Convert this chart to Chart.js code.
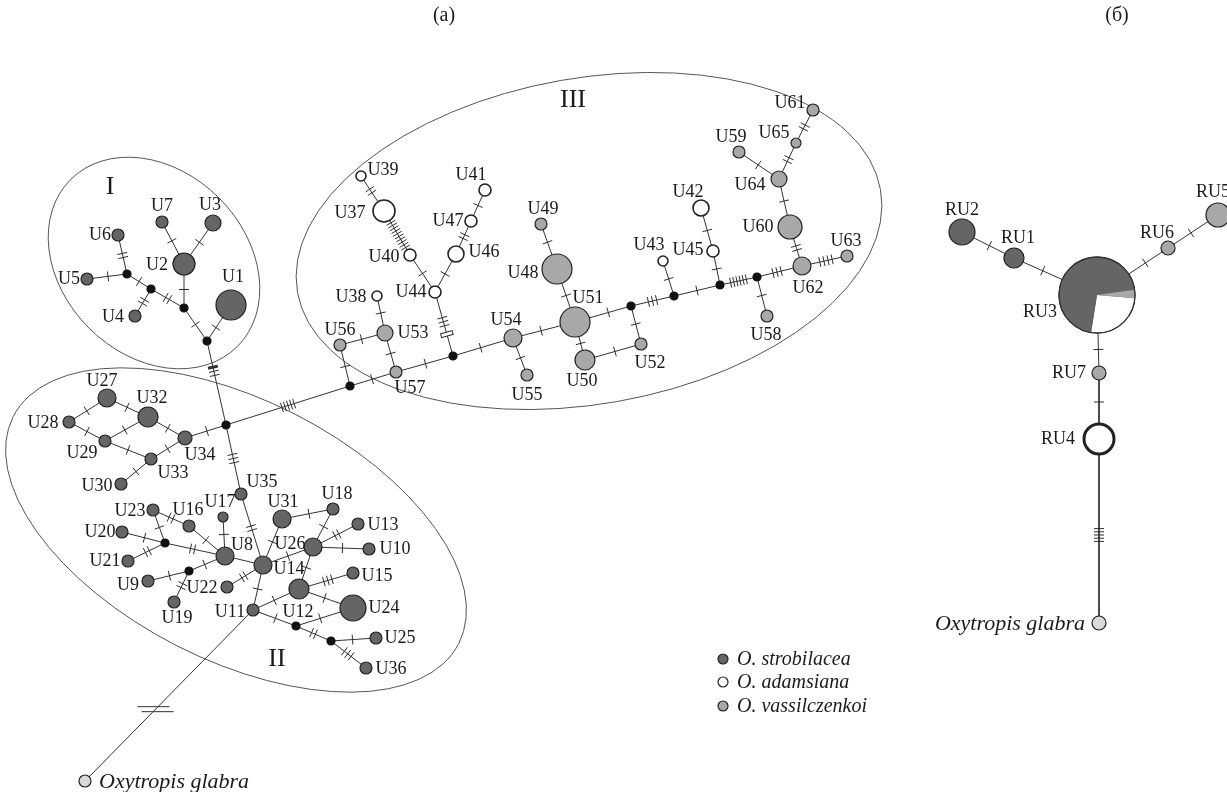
<!DOCTYPE html>
<html><head><meta charset="utf-8">
<script src="https://cdn.jsdelivr.net/npm/chart.js@4"></script>
<style>html,body{margin:0;padding:0;background:#fff}#wrap{width:1227px;height:792px}</style>
</head><body><div id="wrap"><canvas id="c" width="1227" height="792"></canvas></div>
<script>
// ---- haplotypes (nodes) ----
const nodeNames = [
 'U1','U2','U3','U4','U5','U6','U7','m1','m2','m3','m4','h1',
 'U27','U28','U29','U30','U32','U33','U34','U35','U17','U23','U16','U20','m5','U21','U8','U14','U31','U18','U13','U26','U10','m6','U9','U22','U19','U15','U12','U24','U11','m7','m8','U25','U36','G1',
 'm10','U56','U57','U53','U38','m9','U44','U40','U37','U39','U46','U47','U41','U54','U55','U51','U48','U49','U50','m11','U52','m12','U43','m13','U45','U42','m14','U58','U62','U63','U60','U64','U59','U65','U61',
 'RU2','RU1','RU3','RU6','RU5','RU7','RU4','G2'];
const nodeX = [
 231,184,213,135,87,118,162,127,151,184,207,226,
 107,69,105,121,148,151,185,241,223,153,189,122,165,128,225,263,282,333,358,313,369,189,148,227,174,353,299,353,253,296,331,376,366,85,
 350,340,396,385,377,453,435,410,384,361,456,471,485,513,527,575,557,541,585,631,641,674,663,720,713,701,757,767,802,847,790,779,739,796,813,
 962,1014,1097,1168,1218,1099,1099,1099];
const nodeY = [
 305,264,223,316,279,235,222,274,289,308,341,425,
 398,422,441,484,417,459,438,494,517,510,526,532,543,561,556,565,519,509,524,547,549,571,581,587,602,573,589,608,610,626,641,638,668,781,
 386,345,372,333,296,356,292,255,211,176,254,221,190,338,375,322,269,224,360,306,344,296,261,285,251,208,277,316,266,256,227,179,152,143,110,
 232,258,295,248,215,373,439,623];
// frequency class (drawn circle size), 0 = median vector
const nodeFreq = [
 15,11,8,6,6,6,6,0,0,0,0,0,
 9,6,6,6,10,6,7,6,5,6,6,6,0,6,9,9,9,6,6,9,6,0,6,6,6,6,10,13,6,0,0,6,6,6,
 0,6,6,8,5,0,6,6,11,5,8,6,6,9,6,15,15,6,10,0,6,0,5,0,6,8,0,6,9,6,12,8,6,5,6,
 13,10,38,7,12,7,15,7];
// s = O. strobilacea, a = O. adamsiana, v = O. vassilczenkoi, g = O. glabra, m = median, p = mixed
const nodeSpecies = [
 's','s','s','s','s','s','s','m','m','m','m','m',
 's','s','s','s','s','s','s','s','s','s','s','s','m','s','s','s','s','s','s','s','s','m','s','s','s','s','s','s','s','m','m','s','s','g',
 'm','v','v','v','a','m','a','a','a','a','a','a','a','v','v','v','v','v','v','m','v','m','a','m','a','a','m','v','v','v','v','v','v','v','v',
 's','s','p','v','v','v','a','g'];
// RU3 composition (adamsiana, strobilacea, vassilczenkoi)
const pieShares = [0.261, 0.703, 0.036];

// ---- links ----
const edgeFrom = ['U6','U5','m1','m2','m2','m3','U2','U2','m3','m4','m4',
 'h1','h1','U28','U27','U28','U29','U32','U29','U33','U33','U35','U17','U23','U23','U16','U20','U21','m5','U8','U8','m6','m6','U14','U14','U31','U18','U26','U26','U26','U14','U14','U11','U12','U12','U11','m7','m7','m8','m8','U11',
 'h1','m10','m10','U56','U53','U53','U57','U44','U44','U40','U37','U44','U46','U47','m9','U54','U54','U51','U48','U51','U51','m11','U52','m11','m12','m12','m13','U45','m13','m14','m14','U62','U62','U60','U64','U64','U65',
 'RU2','RU1','RU3','RU6','RU3','RU7','RU4'];
const edgeTo = ['m1','m1','m2','U4','m3','U2','U7','U3','m4','U1','h1',
 'U34','U35','U27','U32','U29','U32','U34','U33','U34','U30','U14','U8','m5','U16','U8','m5','m5','U8','U14','m6','U9','U19','U31','U26','U18','U26','U13','U10','U12','U22','U11','U12','U15','U24','m7','U24','m8','U25','U36','G1',
 'm10','U56','U57','U53','U38','U57','m9','m9','U40','U37','U39','U46','U47','U41','U54','U55','U51','U48','U49','U50','m11','U52','U50','m12','U43','m13','U45','U42','m14','U58','U62','U63','U60','U64','U59','U65','U61',
 'RU1','RU3','RU6','RU5','RU7','RU4','G2'];
const edgeSteps = [2,1,1,2,2,1,1,1,1,1,3,
 1,3,1,1,1,1,1,1,1,1,2,1,1,2,1,1,2,2,0,1,1,2,1,1,1,1,2,1,1,2,1,1,3,1,1,1,2,1,3,2,
 5,1,1,1,1,1,1,3,1,10,2,1,2,1,1,1,1,1,1,1,1,1,1,3,1,1,1,1,6,1,3,4,2,1,1,2,2,
 1,1,1,1,1,1,5];

// ---- label layout (offset of label from node) ----
const labelDX = [
 2,-27,-3,-22,-18,-18,0,0,0,0,0,0,
 -5,-26,-23,-24,4,22,15,21,-3,-23,-1,-22,0,-23,17,26,1,4,25,-23,26,0,-20,-25,3,24,-1,31,-23,0,0,24,25,14,
 0,0,14,28,-26,0,-24,-26,-34,22,28,-23,-14,-7,0,13,-34,2,-3,0,9,0,-14,0,-25,-13,0,-1,6,-1,-32,-29,-8,-22,-23,
 0,4,-57,-11,-5,-30,-41,-14];
const labelDY = [
 -28,1,-18,1,0,0,-16,0,0,0,0,0,
 -17,1,12,2,-19,14,17,-12,-15,1,-16,0,0,0,-11,4,-17,-15,1,-3,0,0,4,1,16,3,23,0,2,0,0,0,1,0,
 0,-15,16,0,1,0,0,2,2,-6,-2,0,-15,-18,20,-24,4,-15,21,0,19,0,-16,0,-1,-16,0,19,22,-15,0,6,-15,-10,-7,
 -22,-20,17,-15,-23,0,0,0];

const speciesColor = {s:'#656565', a:'#ffffff', v:'#a8a8a8', g:'#d9d9d9', m:'#111111', p:'#656565'};
const idx = {}; nodeNames.forEach((n,i)=>idx[n]=i);
const rad = i => nodeFreq[i] || 4;

const edgeData = [];
edgeFrom.forEach((f,i)=>{
  const a = idx[f], b = idx[edgeTo[i]];
  edgeData.push({x:nodeX[a], y:nodeY[a]}, {x:nodeX[b], y:nodeY[b]}, {x:null, y:null});
});
const nodeData = nodeNames.map((n,i)=>({x:nodeX[i], y:nodeY[i]}));

const SERIF = '"Liberation Serif","DejaVu Serif",serif';

const netPlugin = {
  id:'net',
  beforeDatasetsDraw(chart){
    const ctx = chart.ctx, sx = chart.scales.x, sy = chart.scales.y;
    const ell = [[154,263,118,92,45],[236,530,250,130,27],[589,241,296,163,-10]];
    ctx.save(); ctx.strokeStyle='#555'; ctx.lineWidth=1;
    ell.forEach(e=>{
      const cx=sx.getPixelForValue(e[0]), cy=sy.getPixelForValue(e[1]);
      const rx=sx.getPixelForValue(e[0]+e[2])-cx, ry=sy.getPixelForValue(e[1])-sy.getPixelForValue(e[1]+e[3]);
      ctx.beginPath(); ctx.ellipse(cx,cy,Math.abs(rx),Math.abs(ry),e[4]*Math.PI/180,0,Math.PI*2); ctx.stroke();
    });
    ctx.restore();
  },
  afterDatasetDraw(chart,args){
    if(args.index!==0) return;
    const ctx = chart.ctx, sx = chart.scales.x, sy = chart.scales.y;
    ctx.save(); ctx.strokeStyle='#2e2e2e'; ctx.lineWidth=1;
    edgeFrom.forEach((f,i)=>{
      const n = edgeSteps[i]; if(!n) return;
      const a = idx[f], b = idx[edgeTo[i]];
      const ax=sx.getPixelForValue(nodeX[a]), ay=sy.getPixelForValue(nodeY[a]);
      const bx=sx.getPixelForValue(nodeX[b]), by=sy.getPixelForValue(nodeY[b]);
      const dx=bx-ax, dy=by-ay, len=Math.hypot(dx,dy), ux=dx/len, uy=dy/len, vx=-uy, vy=ux;
      const key = f+'-'+edgeTo[i];
      if(key==='U11-G1'){
        const t = 0.58*len, cx=ax+ux*t, cy=ay+uy*t;
        [-2.5,2.5].forEach(o=>{ ctx.beginPath(); ctx.moveTo(cx-16+o*0.8, cy+o); ctx.lineTo(cx+16+o*0.8, cy+o); ctx.stroke(); });
        return;
      }
      let mid = (rad(a) + len - rad(b))/2;
      if(key==='m4-h1') mid -= 12;
      const sp = n>=5 ? 3.2 : 4.2;
      const hasBox = key==='U44-m9';
      const slots = n + (hasBox?1.6:0);
      for(let k=0;k<n;k++){
        const o = mid + (k-(slots-1)/2)*sp;
        const cx=ax+ux*o, cy=ay+uy*o, L=5;
        ctx.lineWidth = (key==='m4-h1' && k===0) ? 3 : 1;
        ctx.beginPath(); ctx.moveTo(cx-vx*L, cy-vy*L); ctx.lineTo(cx+vx*L, cy+vy*L); ctx.stroke();
      }
      ctx.lineWidth = 1;
      if(hasBox){
        const o = mid + ((n+0.6)-(slots-1)/2)*sp + 2;
        const cx=ax+ux*o, cy=ay+uy*o;
        ctx.save(); ctx.translate(cx,cy); ctx.rotate(Math.atan2(uy,ux));
        ctx.fillStyle='#fff'; ctx.fillRect(-2,-6,4,12); ctx.strokeRect(-2,-6,4,12);
        ctx.restore();
      }
    });
    ctx.restore();
  },
  afterDatasetsDraw(chart){
    const ctx = chart.ctx, sx = chart.scales.x, sy = chart.scales.y;
    // mixed haplotype RU3
    const p = idx['RU3'], cx=sx.getPixelForValue(nodeX[p]), cy=sy.getPixelForValue(nodeY[p]), r=nodeFreq[p];
    const cols = ['#ffffff','#656565','#a8a8a8'];
    let ang = 5*Math.PI/180;
    pieShares.forEach((s,k)=>{
      const a2 = ang + s*Math.PI*2;
      ctx.beginPath(); ctx.moveTo(cx,cy); ctx.arc(cx,cy,r,ang,a2); ctx.closePath();
      ctx.fillStyle=cols[k]; ctx.fill(); ang=a2;
    });
    ctx.beginPath(); ctx.arc(cx,cy,r,0,Math.PI*2); ctx.strokeStyle='#333'; ctx.lineWidth=1.3; ctx.stroke();

    // labels
    ctx.save(); ctx.fillStyle='#1a1a1a'; ctx.textBaseline='middle';
    nodeNames.forEach((n,i)=>{
      const sp = nodeSpecies[i]; if(sp==='m') return;
      const x = sx.getPixelForValue(nodeX[i])+labelDX[i], y = sy.getPixelForValue(nodeY[i])+labelDY[i];
      if(sp==='g'){
        ctx.font = 'italic 22px '+SERIF; ctx.textAlign = labelDX[i]>0 ? 'left' : 'right';
        ctx.fillText('Oxytropis glabra', x, y+1);
      } else {
        ctx.font = '18px '+SERIF; ctx.textAlign='center';
        ctx.fillText(n, x, y);
      }
    });
    // cluster numerals and panel titles
    ctx.textAlign='center';
    ctx.font = '26px '+SERIF;
    ctx.fillText('I',110,187); ctx.fillText('II',277,659); ctx.fillText('III',573,100);
    ctx.font = '20px '+SERIF;
    ctx.fillText('(а)',444,16); ctx.fillText('(б)',1117,16);
    // legend
    const leg = [['s','O. strobilacea',659],['a','O. adamsiana',682],['v','O. vassilczenkoi',706]];
    leg.forEach(l=>{
      ctx.beginPath(); ctx.arc(723,l[2],5,0,Math.PI*2); ctx.fillStyle=speciesColor[l[0]]; ctx.fill();
      ctx.strokeStyle='#222'; ctx.lineWidth=1.2; ctx.stroke();
      ctx.fillStyle='#1a1a1a'; ctx.font='italic 20px '+SERIF; ctx.textAlign='left';
      ctx.fillText(l[1],737,l[2]+1);
    });
    ctx.restore();
  }
};

new Chart(document.getElementById('c'), {
  type:'scatter',
  data:{ datasets:[
    { data: edgeData, showLine:true, spanGaps:false, borderColor:'#333', borderWidth:1, pointRadius:0, pointHoverRadius:0, order:1 },
    { data: nodeData, showLine:false, order:0,
      pointRadius: nodeFreq.map((f,i)=>rad(i)),
      pointHoverRadius: nodeFreq.map((f,i)=>rad(i)),
      pointBackgroundColor: nodeSpecies.map(s=>speciesColor[s]),
      pointBorderColor: nodeSpecies.map(s=>s==='m'?'#111':'#222'),
      pointBorderWidth: nodeNames.map((n,i)=> n==='RU4'?3 : (nodeSpecies[i]==='a'?1.6:1.2)),
      pointHoverBorderWidth: nodeNames.map((n,i)=> n==='RU4'?3 : (nodeSpecies[i]==='a'?1.6:1.2)) }
  ]},
  options:{
    responsive:false, animation:false, events:[],
    layout:{padding:0, autoPadding:false},
    scales:{
      x:{type:'linear', display:false, min:0, max:1227},
      y:{type:'linear', display:false, min:0, max:792, reverse:true}
    },
    plugins:{ legend:{display:false}, tooltip:{enabled:false}, title:{display:false} }
  },
  plugins:[netPlugin]
});
</script>
</body></html>
